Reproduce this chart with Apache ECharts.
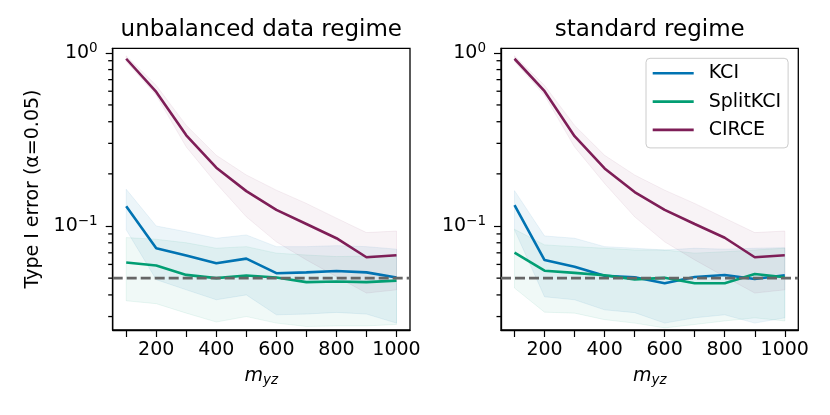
<!DOCTYPE html>
<html><head><meta charset="utf-8">
<script src="https://cdn.jsdelivr.net/npm/echarts@6/dist/echarts.min.js"></script>
<style>html,body{margin:0;padding:0;background:#fff}#c{width:830px;height:415px}</style>
</head><body><div id="c"></div>
<script>
// ---- data ----
const mValues = [100, 200, 300, 400, 500, 600, 700, 800, 900, 1000];
const xTickValues = [100, 200, 300, 400, 500, 600, 700, 800, 900, 1000];
const xLabelValues = [200, 400, 600, 800, 1000];
const yMajorTicks = [0.1, 1];
const yMinorTicks = [0.03, 0.04, 0.05, 0.06, 0.07, 0.08, 0.09, 0.2, 0.3, 0.4, 0.5, 0.6, 0.7, 0.8, 0.9];
const alphaLevel = 0.05;
const panelTitles = ['unbalanced data regime', 'standard regime'];
const methods = ['KCI', 'SplitKCI', 'CIRCE'];

// unbalanced data regime
const kciL     = [0.130, 0.0743, 0.0675, 0.061, 0.0648, 0.0534, 0.054, 0.055, 0.054, 0.0504];
const kciLlo   = [0.095, 0.049, 0.0428, 0.0375, 0.040, 0.0307, 0.031, 0.0317, 0.031, 0.0275];
const kciLhi   = [0.163, 0.100, 0.0927, 0.085, 0.0888, 0.076, 0.076, 0.077, 0.076, 0.0735];
const splitL   = [0.0615, 0.0591, 0.0522, 0.050, 0.0518, 0.0504, 0.0474, 0.0478, 0.0474, 0.0484];
const splitLlo = [0.037, 0.0356, 0.0314, 0.0279, 0.030, 0.0275, 0.0263, 0.0265, 0.0265, 0.027];
const splitLhi = [0.0857, 0.0838, 0.080, 0.0744, 0.076, 0.0697, 0.068, 0.0666, 0.067, 0.068];
const circeL   = [0.924, 0.594, 0.334, 0.217, 0.159, 0.124, 0.1027, 0.085, 0.066, 0.0678];
const circeLlo = [0.89, 0.568, 0.286, 0.176, 0.113, 0.081, 0.0637, 0.051, 0.041, 0.0428];
const circeLhi = [0.96, 0.648, 0.381, 0.256, 0.197, 0.161, 0.135, 0.111, 0.0916, 0.0935];

// standard regime
const kciR     = [0.132, 0.0636, 0.0582, 0.0516, 0.0506, 0.0467, 0.0508, 0.0521, 0.0494, 0.052];
const kciRlo   = [0.095, 0.039, 0.0375, 0.0328, 0.0316, 0.0275, 0.0295, 0.0307, 0.0275, 0.0295];
const kciRhi   = [0.16, 0.0876, 0.085, 0.076, 0.0744, 0.0727, 0.0744, 0.0735, 0.0744, 0.075];
const splitR   = [0.0702, 0.0552, 0.0536, 0.052, 0.0492, 0.0502, 0.0467, 0.0467, 0.0528, 0.0506];
const splitRlo = [0.0438, 0.0318, 0.0314, 0.0288, 0.0275, 0.0258, 0.027, 0.0283, 0.0295, 0.0283];
const splitRhi = [0.0957, 0.0778, 0.076, 0.0744, 0.0727, 0.0727, 0.0697, 0.071, 0.0727, 0.0744];
const circeR   = [0.924, 0.60, 0.33, 0.215, 0.157, 0.124, 0.1027, 0.0855, 0.066, 0.0678];
const circeRlo = [0.89, 0.568, 0.286, 0.176, 0.113, 0.081, 0.0637, 0.051, 0.041, 0.0428];
const circeRhi = [0.96, 0.648, 0.381, 0.256, 0.197, 0.161, 0.135, 0.111, 0.0916, 0.0935];

// ---- styling ----
const colors = {KCI: '#0173b2', SplitKCI: '#029e73', CIRCE: '#7e1e57'};
const bandFill = {KCI: 'rgba(1,115,178,0.075)', SplitKCI: 'rgba(2,158,115,0.06)', CIRCE: 'rgba(126,30,87,0.055)'};
const bandEdge = {KCI: 'rgba(1,115,178,0.08)', SplitKCI: 'rgba(2,158,115,0.08)', CIRCE: 'rgba(126,30,87,0.07)'};
const FONT = 'DejaVu Sans';
const L = Math.log10;
const xMin = 55, xMax = 1045;
const yMin = -1.6005, yMax = 0.026;
const grids = [
  {left: 112.7, top: 48.3, width: 297.3, height: 281.7},
  {left: 501, top: 48.3, width: 297.3, height: 281.7}
];

const panels = [
  {KCI: [kciL, kciLlo, kciLhi], SplitKCI: [splitL, splitLlo, splitLhi], CIRCE: [circeL, circeLlo, circeLhi]},
  {KCI: [kciR, kciRlo, kciRhi], SplitKCI: [splitR, splitRlo, splitRhi], CIRCE: [circeR, circeRlo, circeRhi]}
];

function bandRenderer(fill, edge) {
  return function (params, api) {
    if (params.dataIndexInside !== 0) return null;
    const n = params.dataInsideLength;
    const up = [], dn = [];
    for (let k = 0; k < n; k++) {
      const x = api.value(0, k);
      up.push(api.coord([x, api.value(2, k)]));
      dn.push(api.coord([x, api.value(1, k)]));
    }
    return {
      type: 'polygon',
      shape: {points: up.concat(dn.reverse())},
      style: {fill: fill, stroke: edge, lineWidth: 1}
    };
  };
}

const xAxes = [], yAxes = [], series = [];
grids.forEach((g, i) => {
  xAxes.push({
    type: 'value', gridIndex: i, min: xMin, max: xMax,
    splitLine: {show: false},
    axisLine: {show: true, onZero: false, lineStyle: {color: '#000', width: 1.3}},
    axisTick: {show: true, length: 7, lineStyle: {color: '#000', width: 1.2}, customValues: xTickValues},
    axisLabel: {show: true, customValues: xLabelValues, formatter: v => String(v), fontFamily: FONT, fontSize: 19, color: '#000', margin: 11}
  });
  yAxes.push({
    type: 'value', gridIndex: i, min: yMin, max: yMax, position: 'left',
    splitLine: {show: false},
    axisLine: {show: true, onZero: false, lineStyle: {color: '#000', width: 1.3}},
    axisTick: {show: true, length: 7, lineStyle: {color: '#000', width: 1.2}, customValues: yMajorTicks.map(L)},
    axisLabel: {
      show: true, customValues: yMajorTicks.map(L), margin: 15, color: '#000',
      formatter: v => Math.round(v) === 0 ? '{b|10}{s|0}' : '{b|10}{s|\u2212' + Math.abs(Math.round(v)) + '}',
      rich: {
        b: {fontFamily: FONT, fontSize: 19, lineHeight: 22, color: '#000'},
        s: {fontFamily: FONT, fontSize: 13.5, lineHeight: 13, verticalAlign: 'top', color: '#000'}
      }
    }
  });
  const p = panels[i];
  methods.forEach(m => {
    const [mid, lo, hi] = p[m];
    series.push({
      type: 'custom', name: m + ' band', xAxisIndex: i, yAxisIndex: i, silent: true, z: 1, clip: true,
      renderItem: bandRenderer(bandFill[m], bandEdge[m]),
      encode: {x: 0, y: [1, 2]},
      data: mValues.map((x, k) => [x, L(lo[k]), L(hi[k])])
    });
  });
  methods.forEach(m => {
    const [mid] = p[m];
    series.push({
      type: 'line', name: m, xAxisIndex: i, yAxisIndex: i, symbol: 'none', z: 3,
      color: colors[m],
      lineStyle: {color: colors[m], width: 2.6},
      data: mValues.map((x, k) => [x, L(mid[k])])
    });
  });
  series.push({
    type: 'line', name: 'alpha' + i, xAxisIndex: i, yAxisIndex: i, symbol: 'none', z: 4, silent: true,
    lineStyle: {color: '#666', width: 2.8, type: [10, 4]},
    data: [[xMin, L(alphaLevel)], [xMax, L(alphaLevel)]]
  });
});

const textGraphics = [
  {type: 'text', x: 261.3, y: 30, style: {text: panelTitles[0], fontFamily: FONT, fontSize: 23, fill: '#000', align: 'center', verticalAlign: 'middle'}},
  {type: 'text', x: 649.7, y: 30, style: {text: panelTitles[1], fontFamily: FONT, fontSize: 23, fill: '#000', align: 'center', verticalAlign: 'middle'}},
  {type: 'text', x: 33, y: 189, rotation: Math.PI / 2, style: {text: 'Type I error (\u03b1=0.05)', fontFamily: FONT, fontSize: 19, fill: '#000', align: 'center', verticalAlign: 'middle'}},
  {type: 'text', x: 261.3, y: 376, style: {text: '{m|m}{s|yz}', align: 'center', verticalAlign: 'middle', rich: {m: {fontFamily: FONT, fontStyle: 'italic', fontSize: 19, lineHeight: 22, fill: '#000'}, s: {fontFamily: FONT, fontStyle: 'italic', fontSize: 13.5, lineHeight: 13, verticalAlign: 'bottom', fill: '#000'}}}},
  {type: 'text', x: 649.7, y: 376, style: {text: '{m|m}{s|yz}', align: 'center', verticalAlign: 'middle', rich: {m: {fontFamily: FONT, fontStyle: 'italic', fontSize: 19, lineHeight: 22, fill: '#000'}, s: {fontFamily: FONT, fontStyle: 'italic', fontSize: 13.5, lineHeight: 13, verticalAlign: 'bottom', fill: '#000'}}}}
];

const chart = echarts.init(document.getElementById('c'), null, {renderer: 'canvas'});
chart.setOption({
  animation: false,
  backgroundColor: '#fff',
  grid: grids.map(g => Object.assign({show: true, borderColor: '#000', borderWidth: 1.3, backgroundColor: 'transparent', containLabel: false}, g)),
  xAxis: xAxes,
  yAxis: yAxes,
  legend: {
    data: methods, orient: 'vertical', left: 646, top: 58.3,
    icon: 'rect', itemWidth: 41, itemHeight: 2.6, itemGap: 8.3,
    padding: [5, 7, 8, 6.7],
    backgroundColor: 'rgba(255,255,255,0.8)', borderColor: '#cccccc', borderWidth: 1, borderRadius: 4,
    textStyle: {fontFamily: FONT, fontSize: 19, color: '#000', lineHeight: 20, padding: [0, 0, 0, 10]}
  },
  graphic: textGraphics,
  series: series
});

// minor ticks of the log-scaled y axes, positioned through the axis scale
const tickGraphics = [];
grids.forEach((g, i) => {
  yMinorTicks.forEach(v => {
    const pt = chart.convertToPixel({xAxisIndex: i, yAxisIndex: i}, [xMin, L(v)]);
    if (!pt) return;
    tickGraphics.push({
      type: 'line', z: 100,
      shape: {x1: pt[0] - 4.5, y1: pt[1], x2: pt[0], y2: pt[1]},
      style: {stroke: '#000', lineWidth: 1.3}
    });
  });
});
chart.setOption({graphic: textGraphics.concat(tickGraphics)}, {replaceMerge: ['graphic']});
</script>
</body></html>
